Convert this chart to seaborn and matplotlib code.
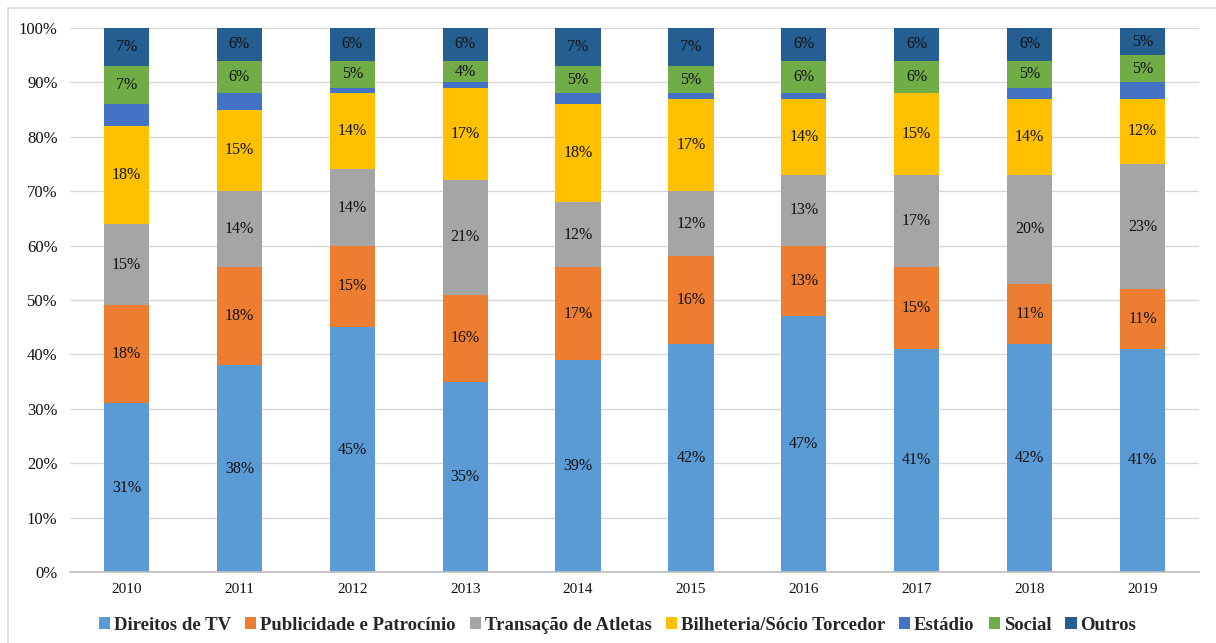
import matplotlib
matplotlib.use("Agg")
import matplotlib.pyplot as plt
import seaborn as sns
import pandas as pd
from matplotlib.lines import Line2D
from matplotlib.ticker import PercentFormatter

years = ["2010", "2011", "2012", "2013", "2014", "2015", "2016", "2017", "2018", "2019"]
direitos_tv = [31, 38, 45, 35, 39, 42, 47, 41, 42, 41]
publicidade = [18, 18, 15, 16, 17, 16, 13, 15, 11, 11]
transacao = [15, 14, 14, 21, 12, 12, 13, 17, 20, 23]
bilheteria = [18, 15, 14, 17, 18, 17, 14, 15, 14, 12]
estadio = [4, 3, 1, 1, 2, 1, 1, 0, 2, 3]
social = [7, 6, 5, 4, 5, 5, 6, 6, 5, 5]
outros = [7, 6, 6, 6, 7, 7, 6, 6, 6, 5]

series_names = ["Direitos de TV", "Publicidade e Patrocínio", "Transação de Atletas",
                "Bilheteria/Sócio Torcedor", "Estádio", "Social", "Outros"]
series_vals = [direitos_tv, publicidade, transacao, bilheteria, estadio, social, outros]
colors = ["#5B9BD5", "#ED7D31", "#A5A5A5", "#FFC000", "#4472C4", "#70AD47", "#255E91"]
labeled = [True, True, True, True, False, True, True]

sns.set_theme(style="white")
plt.rcParams["font.family"] = ["Liberation Serif", "DejaVu Serif"]

fig = plt.figure(figsize=(12.16, 6.43), dpi=100)
ax = fig.add_axes([70 / 1216, 1 - 572 / 643, (1199 - 70) / 1216, (572 - 28) / 643])

bottom = [0] * len(years)
for name, vals, col, lab in zip(series_names, series_vals, colors, labeled):
    df = pd.DataFrame({"year": years, "val": vals})
    sns.barplot(data=df, x="year", y="val", order=years, color=col, width=0.4,
                bottom=bottom, ax=ax, label=name, saturation=1, linewidth=0)
    cont = ax.containers[-1]
    if lab:
        ax.bar_label(cont, labels=[f"{v}%" if v > 0 else "" for v in vals],
                     label_type="center", fontsize=11.5, color="#111111")
    bottom = [b + v for b, v in zip(bottom, vals)]

ax.set_ylim(0, 100)
ax.set_xlim(-0.5, len(years) - 0.5)
ax.set_yticks(range(0, 101, 10))
ax.yaxis.set_major_formatter(PercentFormatter(decimals=0))
ax.set_xlabel("")
ax.set_ylabel("")
ax.grid(axis="y", color="#d9d9d9", linewidth=1)
ax.set_axisbelow(True)
for s in ["left", "right", "top"]:
    ax.spines[s].set_visible(False)
ax.spines["bottom"].set_color("#bfbfbf")
ax.tick_params(axis="y", length=0, labelsize=12, pad=9, colors="#111111")
ax.tick_params(axis="x", length=0, labelsize=11, pad=8, colors="#111111")

handles, labels = ax.get_legend_handles_labels()
leg = ax.legend(handles, labels, loc="center", bbox_to_anchor=(0.485, -0.098), ncol=7,
                frameon=False, prop={"weight": "bold", "size": 13.5},
                handlelength=0.6, handleheight=0.6, handletextpad=0.2,
                columnspacing=0.75)

# outer frame
fig.add_artist(Line2D([8 / 1216, 8 / 1216], [0, 1 - 8 / 643], transform=fig.transFigure,
                      color="#d9d9d9", linewidth=1.2))
fig.add_artist(Line2D([8 / 1216, 1], [1 - 8 / 643, 1 - 8 / 643], transform=fig.transFigure,
                      color="#d9d9d9", linewidth=1.2))

fig.savefig("out.png", dpi=100)
